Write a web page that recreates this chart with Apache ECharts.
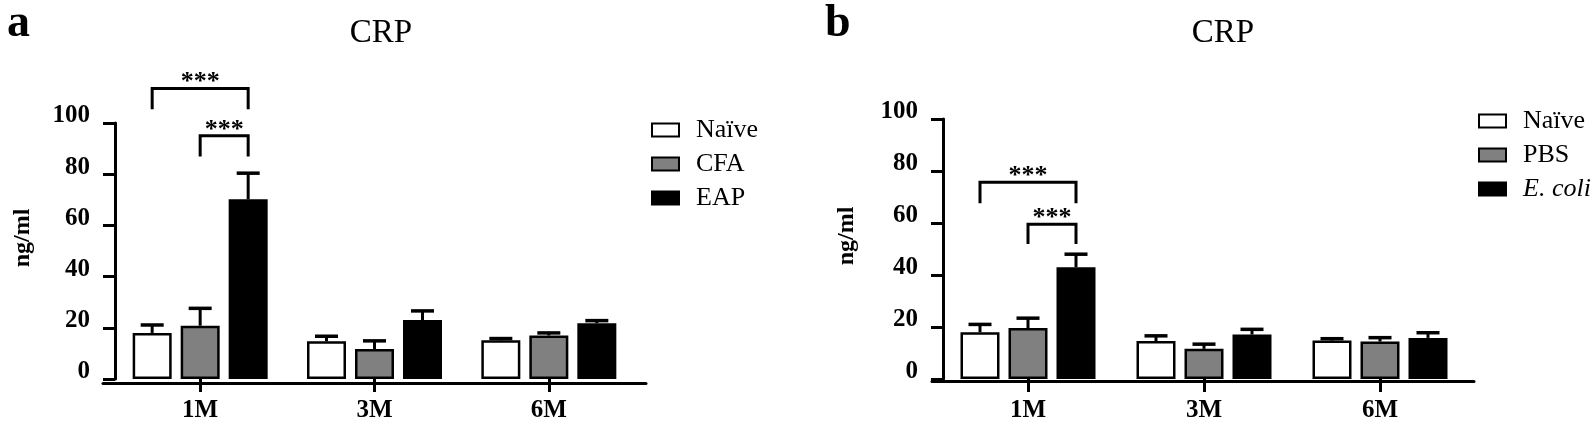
<!DOCTYPE html>
<html><head><meta charset="utf-8">
<script src="https://cdn.jsdelivr.net/npm/echarts@6/dist/echarts.min.js"></script>
<style>html,body{margin:0;padding:0;background:#fff}#c{width:1595px;height:423px}</style>
</head><body><div id="c"></div>
<script>
// ---- data ----
const categories = ['1M', '3M', '6M'];
const yTicks = [0, 20, 40, 60, 80, 100];
const yTitle = 'ng/ml';
// panel a
const aNames = ['Naïve', 'CFA', 'EAP'];
const aNaive = [18.0, 14.7, 15.1];
const aNaiveErr = [21.1, 16.7, 15.8];
const aCFA = [20.8, 11.7, 17.0];
const aCFAErr = [27.6, 14.9, 18.0];
const aEAP = [70.2, 23.0, 21.8];
const aEAPErr = [80.4, 26.6, 22.8];
// brackets: [category, fromGroup, toGroup, barValue, legBottomValue]
const aBrackets = [[0, 0, 2, 113.5, 105.4], [0, 1, 2, 95.0, 86.9]];
// panel b
const bNames = ['Naïve', 'PBS', 'E. coli'];
const bNaive = [18.0, 14.6, 14.8];
const bNaiveErr = [21.0, 16.6, 15.5];
const bPBS = [19.6, 11.6, 14.4];
const bPBSErr = [23.4, 13.4, 15.9];
const bEcoli = [43.0, 17.1, 15.8];
const bEcoliErr = [48.0, 19.1, 17.8];
const bBrackets = [[0, 0, 2, 75.7, 67.6], [0, 1, 2, 59.5, 51.9]];
const sigLabel = '***';

// ---- style ----
const FONT = '"Liberation Serif", "Times New Roman", serif';
const colors = ['#ffffff', '#808080', '#000000'];
const BAR_W = 39, BAR_GAP = 9, STEP = BAR_W + BAR_GAP;

const chart = echarts.init(document.getElementById('c'));

const grid = [
  {left: 113, width: 523, top: 123, height: 260},
  {left: 103, width: 543, top: 123, height: 260},
  {left: 940, width: 528, top: 119, height: 262},
  {left: 932, width: 542, top: 119, height: 262}
];

function catAxis(gi) {
  return {
    type: 'category', gridIndex: gi, data: categories,
    axisLine: {show: false},
    axisTick: {show: true, alignWithLabel: true, length: 13, lineStyle: {color: '#000', width: 3}},
    axisLabel: {color: '#000', fontFamily: FONT, fontWeight: 'bold', fontSize: 25, margin: 19}
  };
}
function lineAxis(gi) {
  return {
    type: 'value', gridIndex: gi, min: 0, max: 1,
    axisLine: {show: true, lineStyle: {color: '#000', width: 3}},
    axisTick: {show: false}, axisLabel: {show: false}, splitLine: {show: false}
  };
}
function valAxis(gi, off) {
  return {
    type: 'value', gridIndex: gi, min: yTicks[0], max: yTicks[yTicks.length - 1], interval: 20,
    offset: off,
    axisLine: {show: true, lineStyle: {color: '#000', width: 3}},
    axisTick: {show: true, length: 12, lineStyle: {color: '#000', width: 3}},
    axisLabel: {color: '#000', fontFamily: FONT, fontWeight: 'bold', fontSize: 25, margin: 25,
      verticalAlign: 'bottom', lineHeight: 14},
    splitLine: {show: false}
  };
}
function hiddenVal(gi) {
  return {type: 'value', gridIndex: gi, min: 0, max: 100, show: false};
}

function barSeries(name, data, ci, xi) {
  return {
    type: 'bar', name: name, data: data, xAxisIndex: xi, yAxisIndex: xi,
    barWidth: BAR_W, barGap: (BAR_GAP / BAR_W * 100).toFixed(2) + '%',
    itemStyle: {color: colors[ci], borderColor: '#000', borderWidth: 2.5},
    z: 2
  };
}
function errSeries(mean, upper, gIdx, xi) {
  const d = mean.map((m, i) => [i, m, upper[i]]);
  return {
    type: 'custom', xAxisIndex: xi, yAxisIndex: xi, data: d, z: 3, silent: true, clip: false,
    renderItem: function (params, api) {
      const p0 = api.coord([api.value(0), api.value(1)]);
      const p1 = api.coord([api.value(0), api.value(2)]);
      const x = p0[0] + (gIdx - 1) * STEP;
      return {type: 'group', children: [
        {type: 'line', shape: {x1: x, y1: p0[1], x2: x, y2: p1[1]}, style: {stroke: '#000', lineWidth: 3}},
        {type: 'line', shape: {x1: x - 11.5, y1: p1[1], x2: x + 11.5, y2: p1[1]}, style: {stroke: '#000', lineWidth: 3.5}}
      ]};
    }
  };
}
function bracketSeries(brackets, xi) {
  return {
    type: 'custom', xAxisIndex: xi, yAxisIndex: xi, data: brackets, z: 4, silent: true, clip: false,
    renderItem: function (params, api) {
      const top = api.coord([api.value(0), api.value(3)]);
      const bot = api.coord([api.value(0), api.value(4)]);
      const xa = top[0] + (api.value(1) - 1) * STEP;
      const xb = top[0] + (api.value(2) - 1) * STEP;
      return {type: 'group', children: [
        {type: 'polyline', shape: {points: [[xa, bot[1]], [xa, top[1]], [xb, top[1]], [xb, bot[1]]]},
          style: {stroke: '#000', lineWidth: 3, fill: null}},
        {type: 'text', style: {text: sigLabel, x: (xa + xb) / 2, y: top[1] - 6, align: 'center', verticalAlign: 'middle',
          font: 'bold 26px ' + FONT, fill: '#000'}}
      ]};
    }
  };
}

const legendBase = {
  orient: 'vertical', icon: 'rect', itemWidth: 27, itemHeight: 13, itemGap: 8, padding: 0,
  selectedMode: false,
  textStyle: {color: '#000', fontFamily: FONT, fontSize: 26, padding: [0, 0, 0, 12],
    rich: {i: {fontStyle: 'italic', fontFamily: FONT, fontSize: 26, color: '#000'}}},
  formatter: function (n) { return n === 'E. coli' ? '{i|E. coli}' : n; }
};

function yName(x, y) {
  return {type: 'text', x: x, y: y, rotation: Math.PI / 2, silent: true,
    style: {text: yTitle, align: 'center', verticalAlign: 'middle', font: 'bold 24px ' + FONT, fill: '#000'}};
}

const option = {
  animation: false,
  backgroundColor: '#fff',
  title: [
    {text: 'CRP', left: 376, top: 12, textAlign: 'center', textStyle: {fontFamily: FONT, fontWeight: 'normal', fontSize: 33, color: '#000'}},
    {text: 'CRP', left: 1218, top: 12, textAlign: 'center', textStyle: {fontFamily: FONT, fontWeight: 'normal', fontSize: 33, color: '#000'}},
    {text: 'a', left: 2, top: -4, textStyle: {fontFamily: FONT, fontWeight: 'bold', fontSize: 46, color: '#000'}},
    {text: 'b', left: 820, top: -4, textStyle: {fontFamily: FONT, fontWeight: 'bold', fontSize: 46, color: '#000'}}
  ],
  graphic: [yName(23, 238), yName(847, 236)],
  legend: [
    Object.assign({}, legendBase, {left: 651, top: 117, data: aNames}),
    Object.assign({}, legendBase, {left: 1478, top: 108, data: bNames})
  ],
  grid: grid,
  xAxis: [catAxis(0), lineAxis(1), catAxis(2), lineAxis(3)],
  yAxis: [valAxis(0, -2), hiddenVal(1), valAxis(2, -3), hiddenVal(3)],
  series: [
    barSeries(aNames[0], aNaive, 0, 0),
    barSeries(aNames[1], aCFA, 1, 0),
    barSeries(aNames[2], aEAP, 2, 0),
    errSeries(aNaive, aNaiveErr, 0, 0),
    errSeries(aCFA, aCFAErr, 1, 0),
    errSeries(aEAP, aEAPErr, 2, 0),
    bracketSeries(aBrackets, 0),
    barSeries(bNames[0], bNaive, 0, 2),
    barSeries(bNames[1], bPBS, 1, 2),
    barSeries(bNames[2], bEcoli, 2, 2),
    errSeries(bNaive, bNaiveErr, 0, 2),
    errSeries(bPBS, bPBSErr, 1, 2),
    errSeries(bEcoli, bEcoliErr, 2, 2),
    bracketSeries(bBrackets, 2)
  ]
};
chart.setOption(option);
</script></body></html>
